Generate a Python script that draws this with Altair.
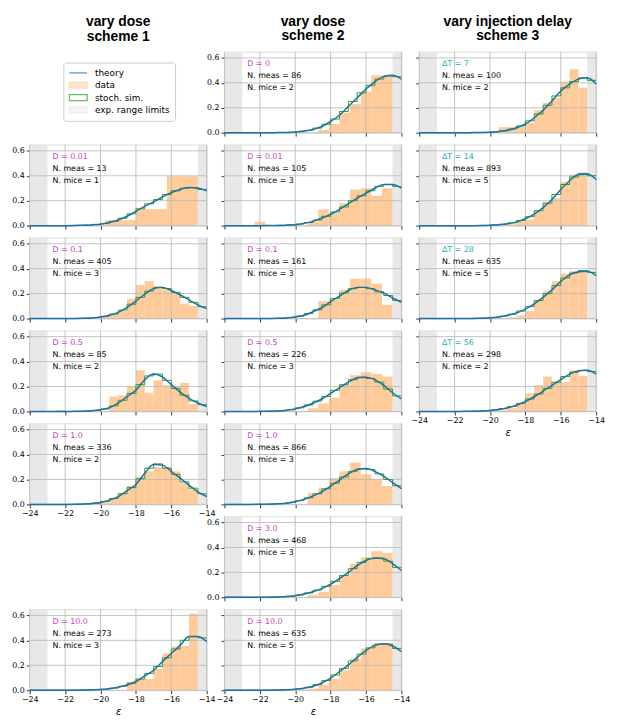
import altair as alt
import pandas as pd

# ---------------- shared axis / layout values ----------------
X_PTS = [-24.0, -23.5, -23.0, -22.5, -22.0, -21.5, -21.0, -20.5, -20.0, -19.5, -19.0,
         -18.5, -18.0, -17.5, -17.0, -16.5, -16.0, -15.5, -15.0, -14.5, -14.0]
X_TICKS = [-24, -22, -20, -18, -16, -14]
Y_TICKS = [0.0, 0.2, 0.4, 0.6]
LIMITS_LO = [-24.0, -14.5]
LIMITS_HI = [-23.0, -14.0]
COL_TITLES = [["vary dose", "scheme 1"], ["vary dose", "scheme 2"], ["vary injection delay", "scheme 3"]]
LEGEND_ENTRIES = ["theory", "data", "stoch. sim.", "exp. range limits"]

EDGES_05_A = [-20.5, -20.0, -19.5, -19.0, -18.5, -18.0, -17.5, -17.0, -16.5, -16.0, -15.5, -15.0, -14.5]
EDGES_05_B = [-22.5, -22.0, -21.5, -21.0, -20.5, -20.0, -19.5, -19.0, -18.5, -18.0, -17.5, -17.0,
              -16.5, -16.0, -15.5, -15.0, -14.5]
EDGES_05_C = [-18.5, -18.0, -17.5, -17.0, -16.5, -16.0, -15.5, -15.0, -14.5]
EDGES_05_D = [-19.5, -19.0, -18.5, -18.0, -17.5, -17.0, -16.5, -16.0, -15.5, -15.0, -14.5]
EDGES_05_E = [-19.0, -18.5, -18.0, -17.5, -17.0, -16.5, -16.0, -15.5, -15.0, -14.5]
EDGES_06_A = [-18.7, -18.1, -17.5, -16.9, -16.3, -15.7, -15.1, -14.5]
EDGES_06_B = [-19.3, -18.7, -18.1, -17.5, -16.9, -16.3, -15.7, -15.1, -14.5]
EDGES_06_C = [-22.3, -21.7, -21.1, -20.5, -19.9, -19.3, -18.7, -18.1, -17.5, -16.9, -16.3, -15.7, -15.1, -14.5]
EDGES_175 = [-19.75, -18.0, -16.25, -14.5]

# ---------------- scheme 1 ----------------
s1_d001_theory = [0, 0, 0, 0, 0, 0.001, 0.003, 0.006, 0.012, 0.025, 0.045, 0.075, 0.115, 0.155, 0.19, 0.23, 0.265, 0.29, 0.305, 0.30, 0.28]
s1_d001_sim = [0, 0, 0, 0, 0, 0.002, 0.004, 0.008, 0.018, 0.034, 0.06, 0.095, 0.135, 0.175, 0.21, 0.25, 0.28, 0.30, 0.305, 0.29]
s1_d001_hist = [0.044, 0.132, 0.396]

s1_d01_theory = [0, 0, 0, 0, 0, 0.001, 0.002, 0.005, 0.012, 0.026, 0.05, 0.09, 0.14, 0.195, 0.24, 0.25, 0.225, 0.19, 0.15, 0.11, 0.08]
s1_d01_sim = [0, 0, 0, 0, 0, 0.001, 0.003, 0.008, 0.018, 0.036, 0.068, 0.115, 0.17, 0.22, 0.25, 0.24, 0.21, 0.17, 0.13, 0.095]
s1_d01_hist = [0.01, 0.02, 0.035, 0.06, 0.16, 0.27, 0.30, 0.26, 0.23, 0.21, 0.12, 0.10]

s1_d05_theory = [0, 0, 0, 0, 0, 0.001, 0.002, 0.005, 0.013, 0.03, 0.066, 0.12, 0.17, 0.255, 0.30, 0.278, 0.215, 0.155, 0.105, 0.068, 0.04]
s1_d05_sim = [0, 0, 0, 0, 0, 0.001, 0.003, 0.008, 0.02, 0.045, 0.09, 0.145, 0.215, 0.285, 0.30, 0.25, 0.185, 0.13, 0.085, 0.055]
s1_d05_hist = [0.012, 0, 0, 0, 0, 0, 0.12, 0.13, 0.20, 0.33, 0.15, 0.25, 0.21, 0.20, 0.23, 0.06]

s1_d1_theory = [0, 0, 0, 0, 0, 0.001, 0.003, 0.007, 0.016, 0.034, 0.063, 0.11, 0.16, 0.25, 0.32, 0.315, 0.265, 0.21, 0.155, 0.10, 0.063]
s1_d1_sim = [0, 0, 0, 0, 0, 0.002, 0.004, 0.01, 0.024, 0.048, 0.085, 0.135, 0.205, 0.29, 0.325, 0.29, 0.24, 0.18, 0.13, 0.085]
s1_d1_hist = [0.012, 0.018, 0.045, 0.09, 0.15, 0.22, 0.265, 0.30, 0.30, 0.265, 0.17, 0.12]

s1_d10_theory = [0, 0, 0, 0, 0, 0, 0.001, 0.003, 0.005, 0.012, 0.024, 0.042, 0.07, 0.115, 0.16, 0.23, 0.295, 0.36, 0.43, 0.43, 0.39]
s1_d10_sim = [0, 0, 0, 0, 0, 0, 0.002, 0.004, 0.008, 0.017, 0.032, 0.055, 0.09, 0.135, 0.19, 0.26, 0.33, 0.40, 0.43, 0.42]
s1_d10_hist = [0.07, 0.09, 0.09, 0.17, 0.295, 0.35, 0.355, 0.615]

# ---------------- scheme 2 ----------------
s2_d0_theory = [0, 0, 0, 0, 0, 0, 0.001, 0.002, 0.005, 0.013, 0.026, 0.05, 0.09, 0.14, 0.21, 0.28, 0.35, 0.41, 0.45, 0.46, 0.43]
s2_d0_sim = [0, 0, 0, 0, 0, 0, 0.001, 0.003, 0.008, 0.018, 0.037, 0.068, 0.11, 0.17, 0.25, 0.32, 0.38, 0.43, 0.455, 0.45]
s2_d0_hist = [0.023, 0.07, 0.16, 0.23, 0.33, 0.46, 0.46]

s2_d001_theory = [0, 0, 0, 0, 0, 0.001, 0.002, 0.004, 0.008, 0.018, 0.034, 0.06, 0.09, 0.13, 0.175, 0.22, 0.26, 0.30, 0.33, 0.33, 0.30]
s2_d001_sim = [0, 0, 0, 0, 0, 0.001, 0.003, 0.006, 0.013, 0.025, 0.045, 0.075, 0.11, 0.15, 0.20, 0.24, 0.28, 0.315, 0.33, 0.315]
s2_d001_hist = [0.032, 0, 0, 0, 0, 0.032, 0.13, 0.10, 0.18, 0.29, 0.30, 0.24, 0.30]

s2_d01_theory = [0, 0, 0, 0, 0, 0.001, 0.002, 0.005, 0.013, 0.026, 0.055, 0.087, 0.135, 0.18, 0.225, 0.25, 0.25, 0.23, 0.205, 0.165, 0.13]
s2_d01_sim = [0, 0, 0, 0, 0, 0.001, 0.003, 0.008, 0.02, 0.04, 0.07, 0.11, 0.16, 0.205, 0.24, 0.25, 0.24, 0.215, 0.185, 0.145]
s2_d01_hist = [0.14, 0.15, 0.23, 0.32, 0.32, 0.28, 0.11]

s2_d05_theory = [0, 0, 0, 0, 0.001, 0.002, 0.004, 0.01, 0.02, 0.04, 0.066, 0.10, 0.145, 0.19, 0.235, 0.27, 0.275, 0.255, 0.21, 0.15, 0.10]
s2_d05_sim = [0, 0, 0, 0, 0.001, 0.003, 0.006, 0.014, 0.03, 0.052, 0.083, 0.12, 0.17, 0.215, 0.255, 0.275, 0.265, 0.235, 0.18, 0.125]
s2_d05_hist = [0.026, 0.065, 0.11, 0.21, 0.29, 0.315, 0.30, 0.28]

s2_d1_theory = [0, 0, 0, 0, 0.001, 0.002, 0.005, 0.01, 0.022, 0.04, 0.068, 0.10, 0.147, 0.195, 0.245, 0.28, 0.287, 0.265, 0.225, 0.175, 0.126]
s2_d1_sim = [0, 0, 0, 0, 0.001, 0.003, 0.007, 0.015, 0.03, 0.053, 0.085, 0.125, 0.17, 0.22, 0.265, 0.285, 0.28, 0.245, 0.20, 0.15]
s2_d1_hist = [0.09, 0.13, 0.21, 0.265, 0.335, 0.24, 0.20, 0.147]

s2_d3_theory = [0, 0, 0, 0, 0, 0.001, 0.003, 0.006, 0.013, 0.026, 0.045, 0.07, 0.105, 0.15, 0.20, 0.255, 0.295, 0.315, 0.31, 0.27, 0.215]
s2_d3_sim = [0, 0, 0, 0, 0, 0.002, 0.004, 0.009, 0.019, 0.035, 0.058, 0.088, 0.128, 0.175, 0.23, 0.28, 0.31, 0.315, 0.29, 0.24]
s2_d3_hist = [0.02, 0.045, 0.10, 0.175, 0.27, 0.32, 0.37, 0.355]

s2_d10_theory = [0, 0, 0, 0, 0, 0, 0.001, 0.004, 0.008, 0.016, 0.032, 0.058, 0.097, 0.15, 0.203, 0.263, 0.32, 0.36, 0.373, 0.355, 0.31]
s2_d10_sim = [0, 0, 0, 0, 0, 0, 0.002, 0.006, 0.012, 0.024, 0.045, 0.078, 0.122, 0.175, 0.235, 0.29, 0.34, 0.37, 0.37, 0.335]
s2_d10_hist = [0.013, 0.045, 0.09, 0.16, 0.255, 0.335, 0.375, 0.38]

# ---------------- scheme 3 ----------------
s3_t7_theory = [0, 0, 0, 0, 0, 0, 0.001, 0.002, 0.004, 0.01, 0.02, 0.04, 0.07, 0.12, 0.18, 0.255, 0.335, 0.39, 0.43, 0.44, 0.39]
s3_t7_sim = [0, 0, 0, 0, 0, 0, 0.001, 0.003, 0.007, 0.015, 0.03, 0.055, 0.095, 0.15, 0.22, 0.295, 0.36, 0.41, 0.44, 0.42]
s3_t7_hist = [0.045, 0.045, 0.045, 0.08, 0.18, 0.24, 0.28, 0.41, 0.51, 0.36]

s3_t14_theory = [0, 0, 0, 0, 0, 0, 0, 0.001, 0.003, 0.007, 0.015, 0.03, 0.055, 0.092, 0.145, 0.21, 0.29, 0.36, 0.41, 0.415, 0.37]
s3_t14_sim = [0, 0, 0, 0, 0, 0, 0, 0.002, 0.005, 0.011, 0.022, 0.042, 0.072, 0.12, 0.18, 0.25, 0.33, 0.39, 0.42, 0.40]
s3_t14_hist = [0.01, 0.035, 0.05, 0.12, 0.19, 0.22, 0.35, 0.41, 0.42]

s3_t28_theory = [0, 0, 0, 0, 0, 0, 0.001, 0.003, 0.006, 0.013, 0.026, 0.045, 0.076, 0.118, 0.17, 0.23, 0.297, 0.35, 0.376, 0.38, 0.345]
s3_t28_sim = [0, 0, 0, 0, 0, 0, 0.002, 0.004, 0.009, 0.019, 0.035, 0.06, 0.096, 0.145, 0.20, 0.265, 0.325, 0.365, 0.385, 0.37]
s3_t28_hist = [0.01, 0.025, 0.06, 0.15, 0.22, 0.30, 0.36, 0.38, 0.38]

s3_t56_theory = [0, 0, 0, 0, 0, 0.001, 0.002, 0.004, 0.008, 0.016, 0.03, 0.05, 0.08, 0.118, 0.163, 0.21, 0.255, 0.30, 0.325, 0.33, 0.30]
s3_t56_sim = [0, 0, 0, 0, 0, 0.001, 0.003, 0.006, 0.012, 0.023, 0.04, 0.065, 0.10, 0.14, 0.185, 0.235, 0.28, 0.315, 0.33, 0.32]
s3_t56_hist = [0.01, 0.026, 0.065, 0.145, 0.21, 0.28, 0.235, 0.235, 0.33, 0.285]

# ---------------- styles ----------------
W, H = 179, 82
BLUE = "#1f6fa8"
ORANGE = "#ffcb9a"
GREEN = "#2ca02c"
GREY = "#e8e8e8"
GRIDC = "#b5b5b5"
MAGENTA = "#c53ec5"
CYAN = "#1ab0bd"
FONT = "DejaVu Sans"
LINE_PATH = "M-1,0H1"
RECT_PATH = "M-1,-0.33H1V0.33H-1Z"


def col_title(lines):
    return alt.TitleParams(text=lines, font="Liberation Sans", fontSize=14, fontWeight="bold",
                           anchor="middle", frame="group", offset=8, lineHeight=15, color="black")


def make_panel(lbl, lbl_color, n_meas, n_mice, theory, sim, edges, hist,
               xlabels=False, ylabels=False, xtitle=False, title=None):
    xs = alt.Scale(domain=[-24, -14], nice=False, zero=False)
    ys = alt.Scale(domain=[0, 0.65], nice=False, zero=True)
    xkw = dict(values=X_TICKS, labels=xlabels, grid=False, domain=False, ticks=True,
               tickSize=3.5, tickWidth=0.8, tickColor="black", labelFontSize=8,
               labelColor="black", labelPadding=2, labelFont=FONT, format="d",
               labelFlush=False, labelOverlap=False)
    if xtitle:
        xkw.update(title="ε", titleFontStyle="italic", titleFontSize=10, titleFontWeight="normal",
                   titleFont=FONT, titlePadding=3, titleColor="black")
    else:
        xkw.update(title=None)
    ykw = dict(values=Y_TICKS, labels=ylabels, grid=False, domain=False, ticks=True,
               tickSize=3.5, tickWidth=0.8, tickColor="black", labelFontSize=8,
               labelColor="black", labelPadding=2, labelFont=FONT, format=".1f",
               title=None, labelOverlap=False)

    def X(field):
        return alt.X(field, scale=xs, axis=alt.Axis(**xkw))

    def Y(field):
        return alt.Y(field, scale=ys, axis=alt.Axis(**ykw))

    bdf = pd.DataFrame({"lo": LIMITS_LO, "hi": LIMITS_HI})
    hdf = pd.DataFrame({"lo": edges[:-1], "hi": edges[1:], "h": hist})
    vg = pd.DataFrame({"lo": X_TICKS})
    hg = pd.DataFrame({"h": Y_TICKS})
    sdf = pd.DataFrame({"lo": X_PTS, "h": sim + [sim[-1]]})
    tdf = pd.DataFrame({"lo": X_PTS, "h": theory})

    bands = alt.Chart(bdf).mark_rect(color=GREY).encode(
        x=X("lo:Q"), x2="hi:Q", y=alt.value(0), y2=alt.value(H))
    bars = alt.Chart(hdf).mark_rect(color=ORANGE).encode(
        x=X("lo:Q"), x2="hi:Q", y=Y("h:Q"), y2=alt.datum(0))
    vgrid = alt.Chart(vg).mark_rule(color=GRIDC, strokeWidth=0.8).encode(x=X("lo:Q"))
    hgrid = alt.Chart(hg).mark_rule(color=GRIDC, strokeWidth=0.8).encode(y=Y("h:Q"))
    simline = alt.Chart(sdf).mark_line(interpolate="step-after", color=GREEN, strokeWidth=1).encode(
        x=X("lo:Q"), y=Y("h:Q"))
    theo = alt.Chart(tdf).mark_line(interpolate="monotone", color=BLUE, strokeWidth=1.5).encode(
        x=X("lo:Q"), y=Y("h:Q"))

    texts = []
    for txt, col, yy in [(lbl, lbl_color, 13), (f"N. meas = {n_meas}", "black", 25),
                         (f"N. mice = {n_mice}", "black", 37)]:
        texts.append(alt.Chart(pd.DataFrame({"s": [txt]})).mark_text(
            align="left", baseline="middle", fontSize=8, font=FONT, color=col).encode(
            x=alt.value(23), y=alt.value(yy), text="s:N"))

    props = dict(width=W, height=H)
    if title is not None:
        props["title"] = col_title(title)
    return alt.layer(bands, bars, vgrid, hgrid, simline, theo, *texts).properties(**props)


def blank():
    return alt.Chart(pd.DataFrame({"px": [0.5]})).mark_point(opacity=0).encode(
        x=alt.X("px:Q", axis=None), y=alt.Y("px:Q", axis=None)).properties(
        width=W, height=H, view=alt.ViewBackground(stroke="transparent"))


leg_df = pd.DataFrame({"entry": LEGEND_ENTRIES, "px": [0.5] * 4, "py": [0.5] * 4})
leg_kw = dict(title=None, orient="none", legendX=34, legendY=11, symbolSize=324,
              symbolStrokeWidth=1.3, labelFontSize=9, labelFont=FONT, labelColor="black",
              strokeColor="#cccccc", fillColor="white", padding=5, cornerRadius=3,
              rowPadding=1.5, clipHeight=11, labelOffset=7)
legend_panel = alt.Chart(leg_df).mark_point(clip=True).encode(
    x=alt.X("px:Q", scale=alt.Scale(domain=[0, 1]), axis=None),
    y=alt.Y("py:Q", scale=alt.Scale(domain=[0, 1]), axis=None),
    fill=alt.Fill("entry:N", scale=alt.Scale(domain=LEGEND_ENTRIES,
                  range=["transparent", ORANGE, "white", GREY]), legend=alt.Legend(**leg_kw)),
    stroke=alt.Stroke("entry:N", scale=alt.Scale(domain=LEGEND_ENTRIES,
                      range=[BLUE, ORANGE, GREEN, GREY]), legend=alt.Legend(**leg_kw)),
    shape=alt.Shape("entry:N", scale=alt.Scale(domain=LEGEND_ENTRIES,
                    range=[LINE_PATH, RECT_PATH, RECT_PATH, RECT_PATH]), legend=alt.Legend(**leg_kw)),
).properties(width=W, height=H, title=col_title(COL_TITLES[0]),
             view=alt.ViewBackground(stroke="transparent"))

cells = [
    legend_panel,
    make_panel("D = 0", MAGENTA, 86, 2, s2_d0_theory, s2_d0_sim, EDGES_06_A, s2_d0_hist,
               ylabels=True, title=COL_TITLES[1]),
    make_panel("ΔT = 7", CYAN, 100, 2, s3_t7_theory, s3_t7_sim, EDGES_05_D, s3_t7_hist,
               title=COL_TITLES[2]),

    make_panel("D = 0.01", MAGENTA, 13, 1, s1_d001_theory, s1_d001_sim, EDGES_175, s1_d001_hist, ylabels=True),
    make_panel("D = 0.01", MAGENTA, 105, 3, s2_d001_theory, s2_d001_sim, EDGES_06_C, s2_d001_hist),
    make_panel("ΔT = 14", CYAN, 893, 5, s3_t14_theory, s3_t14_sim, EDGES_05_E, s3_t14_hist),

    make_panel("D = 0.1", MAGENTA, 405, 3, s1_d01_theory, s1_d01_sim, EDGES_05_A, s1_d01_hist, ylabels=True),
    make_panel("D = 0.1", MAGENTA, 161, 3, s2_d01_theory, s2_d01_sim, EDGES_06_A, s2_d01_hist),
    make_panel("ΔT = 28", CYAN, 635, 5, s3_t28_theory, s3_t28_sim, EDGES_05_E, s3_t28_hist),

    make_panel("D = 0.5", MAGENTA, 85, 2, s1_d05_theory, s1_d05_sim, EDGES_05_B, s1_d05_hist, ylabels=True),
    make_panel("D = 0.5", MAGENTA, 226, 3, s2_d05_theory, s2_d05_sim, EDGES_06_B, s2_d05_hist),
    make_panel("ΔT = 56", CYAN, 298, 2, s3_t56_theory, s3_t56_sim, EDGES_05_D, s3_t56_hist,
               xlabels=True, xtitle=True),

    make_panel("D = 1.0", MAGENTA, 336, 2, s1_d1_theory, s1_d1_sim, EDGES_05_A, s1_d1_hist,
               ylabels=True, xlabels=True),
    make_panel("D = 1.0", MAGENTA, 866, 3, s2_d1_theory, s2_d1_sim, EDGES_06_B, s2_d1_hist),
    blank(),

    blank(),
    make_panel("D = 3.0", MAGENTA, 468, 3, s2_d3_theory, s2_d3_sim, EDGES_06_B, s2_d3_hist, ylabels=True),
    blank(),

    make_panel("D = 10.0", MAGENTA, 273, 3, s1_d10_theory, s1_d10_sim, EDGES_05_C, s1_d10_hist,
               ylabels=True, xlabels=True, xtitle=True),
    make_panel("D = 10.0", MAGENTA, 635, 5, s2_d10_theory, s2_d10_sim, EDGES_06_B, s2_d10_hist,
               xlabels=True, xtitle=True),
    blank(),
]

chart = alt.concat(*cells, columns=3, spacing={"row": 12, "column": 18}, bounds="flush").properties(
    padding={"left": 3, "right": 4, "top": 2, "bottom": 4}
).configure_view(stroke="black", strokeWidth=0.8).configure(font=FONT)

chart.save("out.html", embed_options={"renderer": "svg", "actions": False})
